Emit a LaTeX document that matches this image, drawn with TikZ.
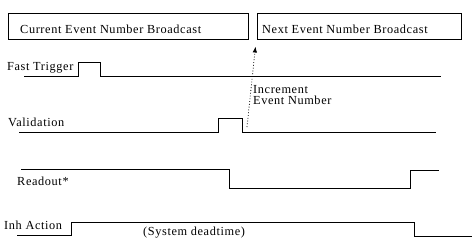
\documentclass[tikz,border=0pt]{standalone}
\usepackage{fontspec}
\usetikzlibrary{arrows.meta}
\setmainfont{Liberation Serif}[LetterSpace=5]
\begin{document}
\begin{tikzpicture}[x=1pt,y=-1pt,
  lbl/.style={anchor=base west,inner sep=0pt,font=\fontsize{12.3}{13}\selectfont},
  boxst/.style={draw,line width=1pt},
  sig/.style={line width=1pt}]
\useasboundingbox (0,0) rectangle (472,241);
% broadcast boxes
\draw[boxst] (8,13) rectangle (248,39);
\draw[boxst] (257,13) rectangle (461,39);
\node[lbl] (cur) at (20,33) {Current Event Number Broadcast};
\node[lbl] (nxt) at (262,33) {Next Event Number Broadcast};
% labels
\node[lbl] (ft) at (7,70) {Fast Trigger};
\node[lbl] (val) at (8,126) {Validation};
\node[lbl] (ro) at (17,185) {Readout*};
\node[lbl] (inh) at (4,229) {Inh Action};
\node[lbl] (sd) at (143,235) {(System deadtime)};
\node[lbl] (inc) at (253,93) {Increment};
\node[lbl] (evn) at (253,104) {Event Number};
% fast trigger
\draw[sig] (24,76) -- (78,76) -- (78,62) -- (100,62) -- (100,76) -- (441,76);
% validation
\draw[sig] (19,132) -- (218,132) -- (218,118) -- (242,118) -- (242,132) -- (436,132);
% readout
\draw[sig] (21,169) -- (229,169) -- (229,188) -- (410,188) -- (410,170) -- (439,170);
% inh action
\draw[sig] (17,235) -- (71,235) -- (71,222) -- (414,222) -- (414,236) -- (472,236);
% increment arrow
\coordinate (vfall) at (247,127);
\coordinate (tip) at (255.5,46.5);
\draw[dotted,line width=0.8pt,-{Latex[length=6pt,width=4.5pt]}] (vfall) -- (tip);
\end{tikzpicture}
\end{document}
